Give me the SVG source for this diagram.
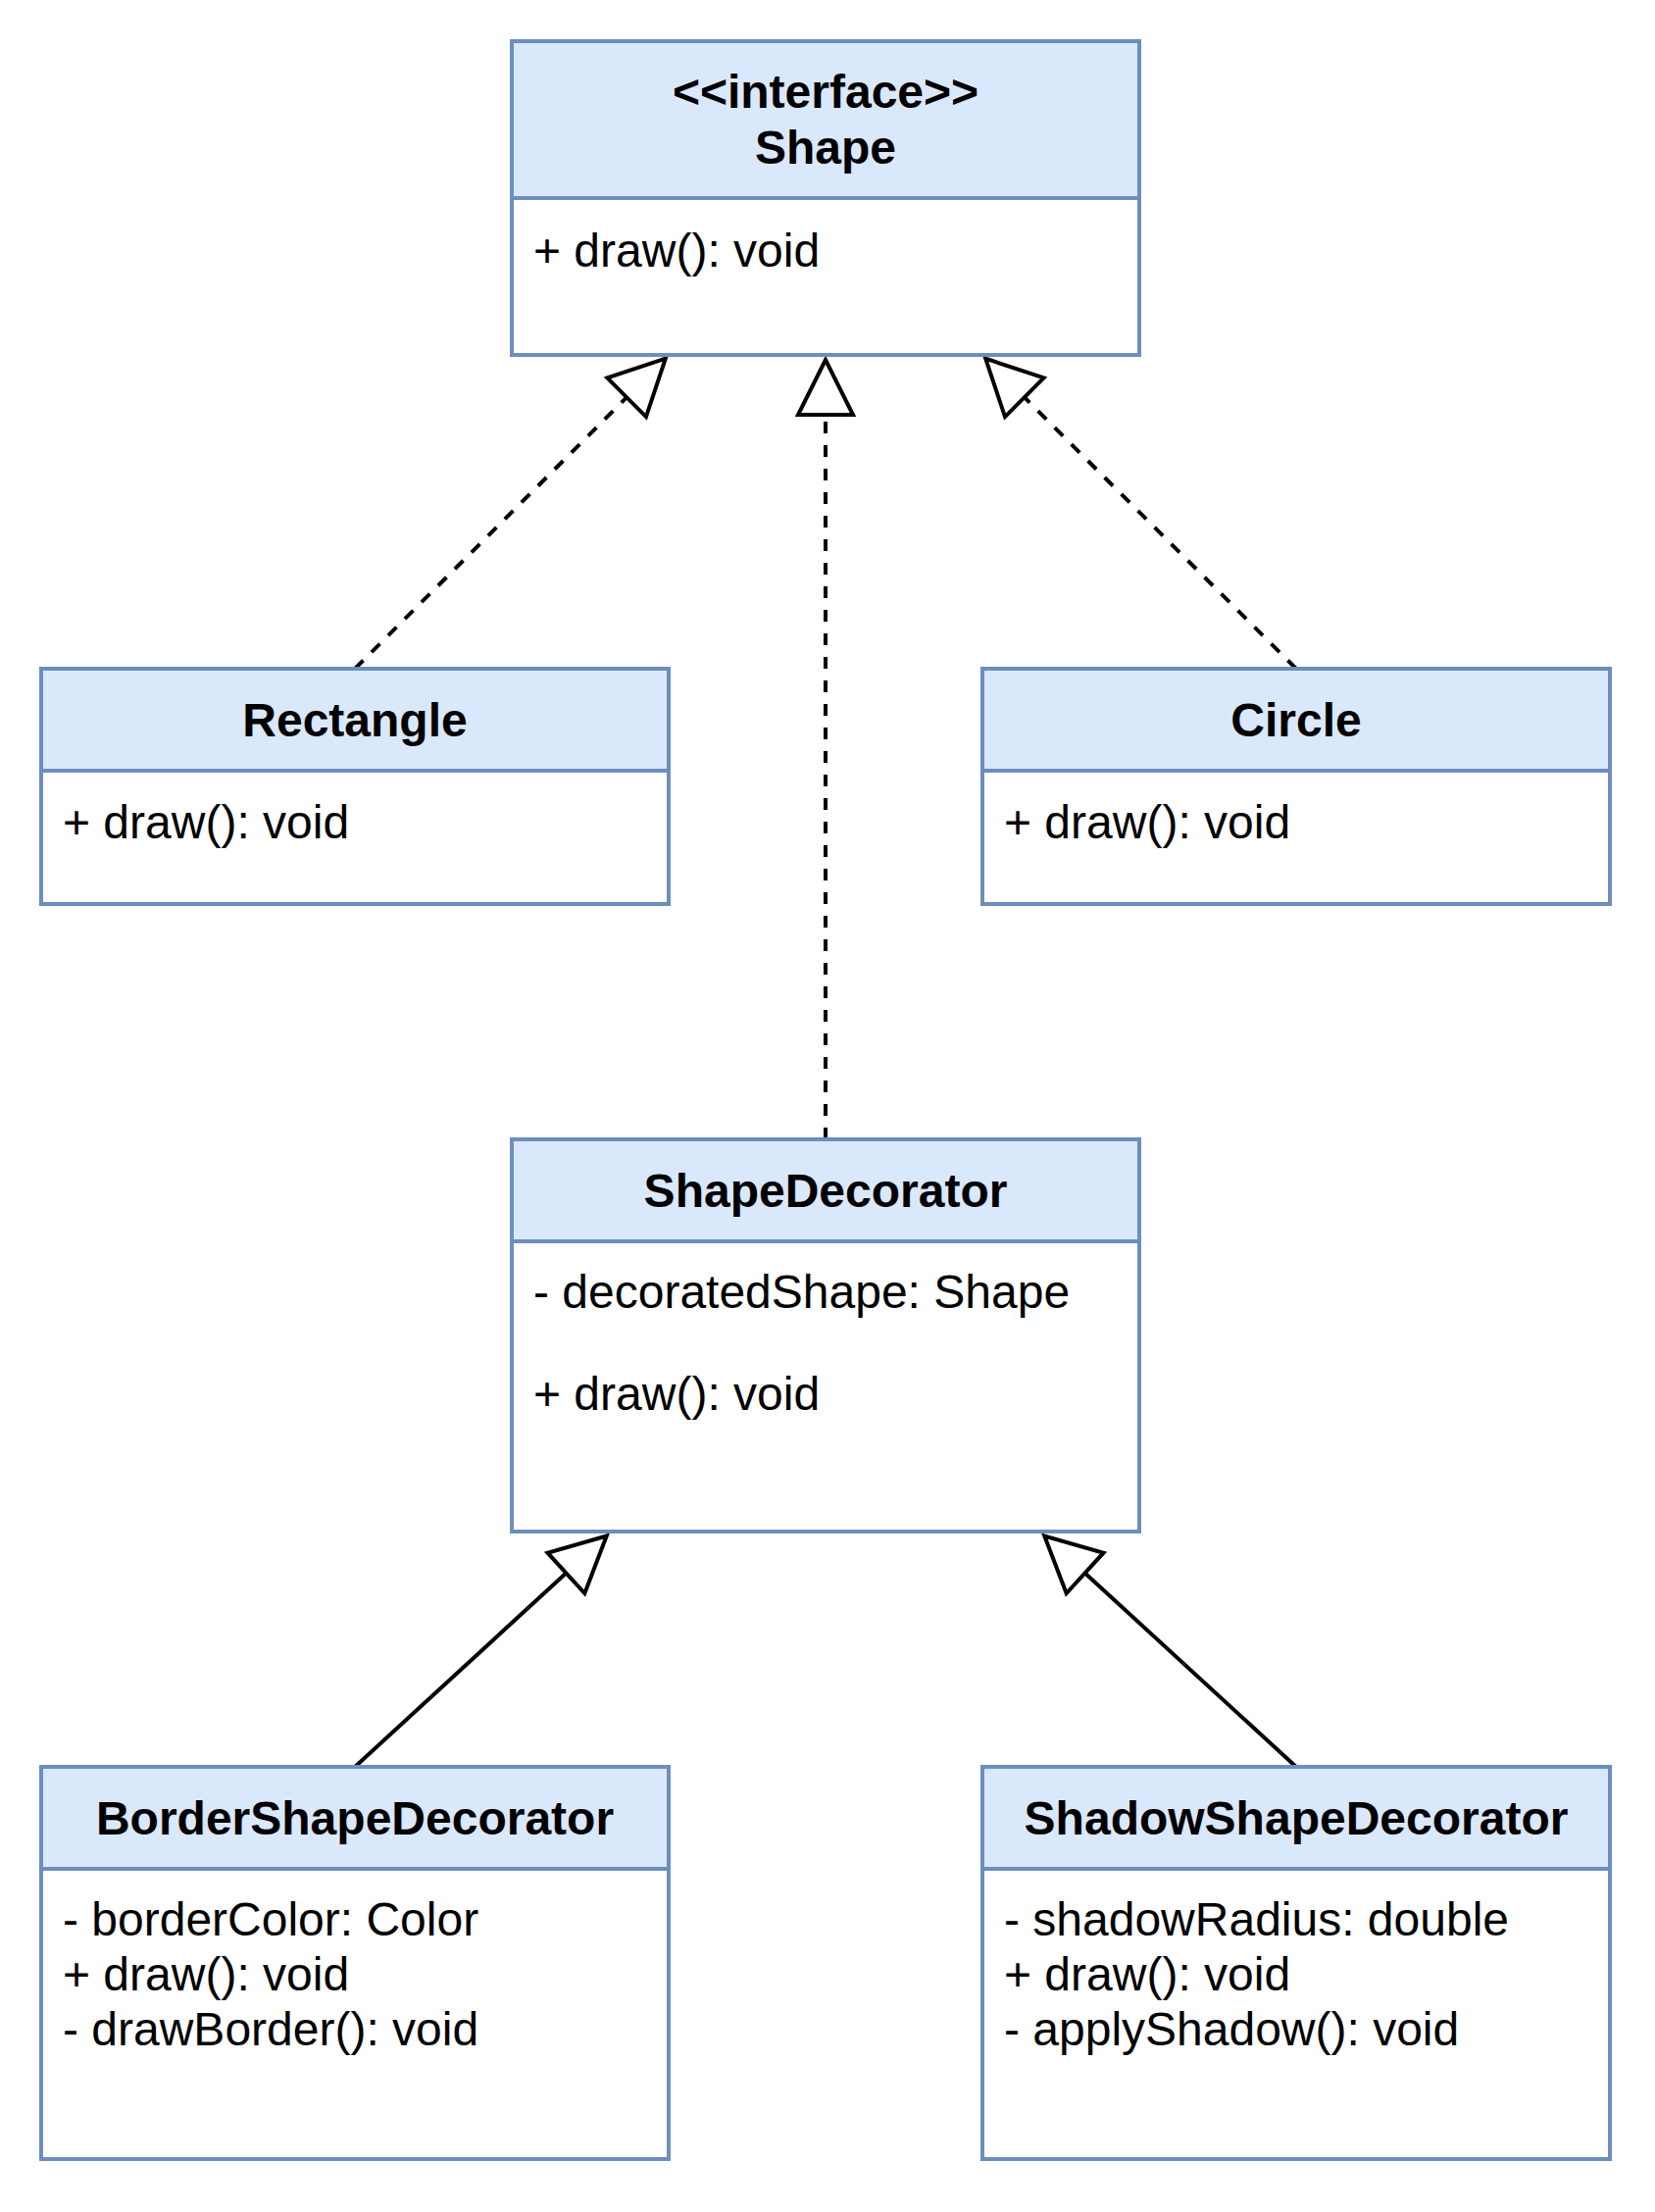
<svg xmlns="http://www.w3.org/2000/svg" width="1688" height="2256" viewBox="0 0 1688 2256">
  <style>
    .hdr { fill: #dae8fc; stroke: #6c8ebf; stroke-width: 4; }
    .body { fill: #ffffff; stroke: #6c8ebf; stroke-width: 4; }
    .title { font-family: "Liberation Sans", Arial, sans-serif; font-size: 48px; font-weight: bold; fill: #000; text-anchor: middle; }
    .item { font-family: "Liberation Sans", Arial, sans-serif; font-size: 48px; fill: #000; }
    .edge { fill: none; stroke: #000; stroke-width: 4; }
    .dashed { stroke-dasharray: 12 12; }
  </style>
  <defs>
    <marker id="tri" markerUnits="userSpaceOnUse" markerWidth="80" markerHeight="80" viewBox="-70 -40 80 80" refX="0" refY="0" orient="auto" overflow="visible">
      <path d="M0,0 L-56,-28 L-56,28 Z" fill="#ffffff" stroke="#000000" stroke-width="4" stroke-linejoin="miter"/>
    </marker>
  </defs>
  <rect width="1688" height="2256" fill="#ffffff"/>

  <g id="connectors">
    <path class="edge dashed" d="M362,682 L678.8,365.7" marker-end="url(#tri)"/>
    <path class="edge dashed" d="M842,1162 L842,367" marker-end="url(#tri)"/>
    <path class="edge dashed" d="M1322,682 L1005.2,365.7" marker-end="url(#tri)"/>
    <path class="edge" d="M362,1802 L618.7,1566.5" marker-end="url(#tri)"/>
    <path class="edge" d="M1322,1802 L1065.3,1566.5" marker-end="url(#tri)"/>
  </g>

  <g id="shape">
    <rect class="body" x="522" y="42" width="640" height="320"/>
    <rect class="hdr" x="522" y="42" width="640" height="160"/>
    <text class="title" x="842" y="110">&lt;&lt;interface&gt;&gt;</text>
    <text class="title" x="842" y="167">Shape</text>
    <text class="item" x="544" y="272">+ draw(): void</text>
  </g>

  <g id="rectangle">
    <rect class="body" x="42" y="682" width="640" height="240"/>
    <rect class="hdr" x="42" y="682" width="640" height="104"/>
    <text class="title" x="362" y="751">Rectangle</text>
    <text class="item" x="64" y="855">+ draw(): void</text>
  </g>

  <g id="circle">
    <rect class="body" x="1002" y="682" width="640" height="240"/>
    <rect class="hdr" x="1002" y="682" width="640" height="104"/>
    <text class="title" x="1322" y="751">Circle</text>
    <text class="item" x="1024" y="855">+ draw(): void</text>
  </g>

  <g id="shapeDecorator">
    <rect class="body" x="522" y="1162" width="640" height="400"/>
    <rect class="hdr" x="522" y="1162" width="640" height="104"/>
    <text class="title" x="842" y="1231">ShapeDecorator</text>
    <text class="item" x="544" y="1334">- decoratedShape: Shape</text>
    <text class="item" x="544" y="1438">+ draw(): void</text>
  </g>

  <g id="borderShapeDecorator">
    <rect class="body" x="42" y="1802" width="640" height="400"/>
    <rect class="hdr" x="42" y="1802" width="640" height="104"/>
    <text class="title" x="362" y="1871">BorderShapeDecorator</text>
    <text class="item" x="64" y="1974">- borderColor: Color</text>
    <text class="item" x="64" y="2030">+ draw(): void</text>
    <text class="item" x="64" y="2086">- drawBorder(): void</text>
  </g>

  <g id="shadowShapeDecorator">
    <rect class="body" x="1002" y="1802" width="640" height="400"/>
    <rect class="hdr" x="1002" y="1802" width="640" height="104"/>
    <text class="title" x="1322" y="1871">ShadowShapeDecorator</text>
    <text class="item" x="1024" y="1974">- shadowRadius: double</text>
    <text class="item" x="1024" y="2030">+ draw(): void</text>
    <text class="item" x="1024" y="2086">- applyShadow(): void</text>
  </g>
</svg>
